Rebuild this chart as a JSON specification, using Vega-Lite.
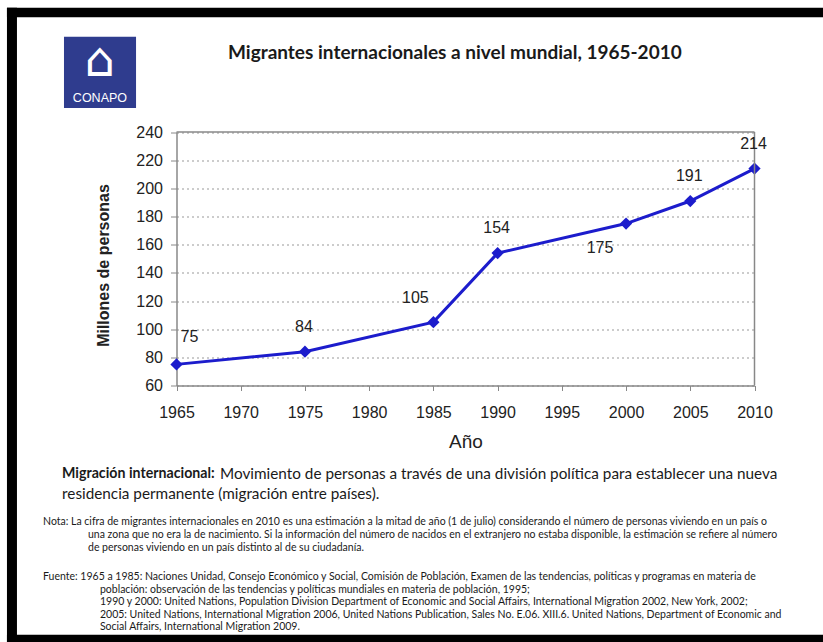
{
  "$schema": "https://vega.github.io/schema/vega-lite/v6.json",
  "width": 811,
  "height": 627,
  "autosize": {"type": "none"},
  "padding": {"left": 12, "top": 12.5, "right": 0, "bottom": 2.5},
  "background": "white",
  "config": {"view": {"fill": "white", "stroke": null}},
  "title": {
    "text": "Migrantes internacionales a nivel mundial, 1965-2010",
    "anchor": "start", "frame": "group", "dx": 216, "offset": -60,
    "font": "Lato", "fontSize": 19, "fontWeight": "bold", "color": "#1a1a1a"
  },
  "datasets": {
    "migrantes": [
      {"year": 1965, "value": 75},
      {"year": 1975, "value": 84},
      {"year": 1985, "value": 105},
      {"year": 1990, "value": 154},
      {"year": 2000, "value": 175},
      {"year": 2005, "value": 191},
      {"year": 2010, "value": 214}
    ]
  },
  "layer": [
    {
      "data": {"name": "migrantes"},
      "mark": {"type": "line", "color": "#1c1ccc", "strokeWidth": 3},
      "encoding": {
        "x": {"field": "year", "type": "quantitative",
          "scale": {"domain": [1965, 2010], "range": [164.5, 742.5], "nice": false, "zero": false},
          "axis": {"title": "Año", "values": [1965, 1970, 1975, 1980, 1985, 1990, 1995, 2000, 2005, 2010], "format": "d",
            "offset": -254, "labelFont": "Liberation Sans", "labelFontSize": 16, "labelColor": "#222", "labelPadding": 14,
            "labelFlush": false, "labelOverlap": false,
            "tickSize": 5, "tickColor": "#888", "domainColor": "#888", "domainWidth": 1.5, "grid": false,
            "titleFont": "Liberation Sans", "titleFontSize": 19, "titleFontWeight": "normal", "titleColor": "#222", "titlePadding": 12}},
        "y": {"field": "value", "type": "quantitative",
          "scale": {"domain": [60, 240], "range": [373, 119.5], "nice": false, "zero": false},
          "axis": {"title": "Millones de personas", "values": [60, 80, 100, 120, 140, 160, 180, 200, 220, 240],
            "offset": -164.5, "labelFont": "Liberation Sans", "labelFontSize": 16, "labelColor": "#222", "labelPadding": 8,
            "labelOverlap": false, "labelFlush": false,
            "tickSize": 6, "tickColor": "#888", "domainColor": "#888", "domainWidth": 1.5,
            "grid": true, "gridColor": "#999", "gridDash": [2, 3], "gridWidth": 1,
            "titleFont": "Liberation Sans", "titleFontSize": 16, "titleFontWeight": "bold", "titleColor": "#222",
            "titlePadding": 24, "titleY": 252.5}}
      }
    },
    {
      "data": {"name": "migrantes"},
      "mark": {"type": "point", "shape": "diamond", "filled": true, "size": 150, "color": "#1c1ccc", "opacity": 1},
      "encoding": {
        "x": {"field": "year", "type": "quantitative", "scale": {"domain": [1965, 2010], "range": [164.5, 742.5], "nice": false, "zero": false}},
        "y": {"field": "value", "type": "quantitative", "scale": {"domain": [60, 240], "range": [373, 119.5], "nice": false, "zero": false}}
      }
    },
    {
      "data": {"values": [{"borde": "superior"}]},
      "mark": {"type": "rule", "color": "#888", "strokeWidth": 1.5},
      "encoding": {
        "x": {"datum": 1965, "type": "quantitative", "scale": {"domain": [1965, 2010], "range": [164.5, 742.5], "nice": false, "zero": false}},
        "x2": {"datum": 2010},
        "y": {"datum": 240, "type": "quantitative", "scale": {"domain": [60, 240], "range": [373, 119.5], "nice": false, "zero": false}}
      }
    },
    {
      "data": {"values": [{"borde": "derecho"}]},
      "mark": {"type": "rule", "color": "#888", "strokeWidth": 1.5},
      "encoding": {
        "x": {"datum": 2010, "type": "quantitative", "scale": {"domain": [1965, 2010], "range": [164.5, 742.5], "nice": false, "zero": false}},
        "y": {"datum": 60, "type": "quantitative", "scale": {"domain": [60, 240], "range": [373, 119.5], "nice": false, "zero": false}},
        "y2": {"datum": 240}
      }
    },
    {
      "data": {"values": [{"marco": "superior"}]},
      "mark": {"type": "rule", "color": "black", "strokeWidth": 9.5},
      "encoding": {
        "x": {"datum": 1951.8, "type": "quantitative", "scale": {"domain": [1965, 2010], "range": [164.5, 742.5], "nice": false, "zero": false}},
        "x2": {"datum": 2017},
        "y": {"datum": 324.86, "type": "quantitative", "scale": {"domain": [60, 240], "range": [373, 119.5], "nice": false, "zero": false}}
      }
    },
    {
      "data": {"values": [{"marco": "izquierdo"}]},
      "mark": {"type": "rule", "color": "black", "strokeWidth": 10},
      "encoding": {
        "x": {"datum": 1952.19, "type": "quantitative", "scale": {"domain": [1965, 2010], "range": [164.5, 742.5], "nice": false, "zero": false}},
        "y": {"datum": 328.23, "type": "quantitative", "scale": {"domain": [60, 240], "range": [373, 119.5], "nice": false, "zero": false}},
        "y2": {"datum": -130}
      }
    },
    {
      "data": {"values": [{"marco": "inferior"}]},
      "mark": {"type": "rule", "color": "black", "strokeWidth": 9.5},
      "encoding": {
        "x": {"datum": 1951.8, "type": "quantitative", "scale": {"domain": [1965, 2010], "range": [164.5, 742.5], "nice": false, "zero": false}},
        "x2": {"datum": 2017},
        "y": {"datum": -120.36, "type": "quantitative", "scale": {"domain": [60, 240], "range": [373, 119.5], "nice": false, "zero": false}}
      }
    },
    {
      "data": {"name": "migrantes"},
      "transform": [{"filter": "datum.year == 1975 || datum.year == 1990 || datum.year == 2005 || datum.year == 2010"}],
      "mark": {"type": "text", "font": "Liberation Sans", "fontSize": 16, "color": "#222", "dx": -1, "dy": -25, "baseline": "middle"},
      "encoding": {
        "x": {"field": "year", "type": "quantitative", "scale": {"domain": [1965, 2010], "range": [164.5, 742.5], "nice": false, "zero": false}},
        "y": {"field": "value", "type": "quantitative", "scale": {"domain": [60, 240], "range": [373, 119.5], "nice": false, "zero": false}},
        "text": {"field": "value", "type": "quantitative"}
      }
    },
    {
      "data": {"name": "migrantes"},
      "transform": [{"filter": "datum.year == 1965"}],
      "mark": {"type": "text", "font": "Liberation Sans", "fontSize": 16, "color": "#222", "dx": 13, "dy": -27, "baseline": "middle"},
      "encoding": {
        "x": {"field": "year", "type": "quantitative", "scale": {"domain": [1965, 2010], "range": [164.5, 742.5], "nice": false, "zero": false}},
        "y": {"field": "value", "type": "quantitative", "scale": {"domain": [60, 240], "range": [373, 119.5], "nice": false, "zero": false}},
        "text": {"field": "value", "type": "quantitative"}
      }
    },
    {
      "data": {"name": "migrantes"},
      "transform": [{"filter": "datum.year == 1985"}],
      "mark": {"type": "text", "font": "Liberation Sans", "fontSize": 16, "color": "#222", "dx": -18, "dy": -24, "baseline": "middle"},
      "encoding": {
        "x": {"field": "year", "type": "quantitative", "scale": {"domain": [1965, 2010], "range": [164.5, 742.5], "nice": false, "zero": false}},
        "y": {"field": "value", "type": "quantitative", "scale": {"domain": [60, 240], "range": [373, 119.5], "nice": false, "zero": false}},
        "text": {"field": "value", "type": "quantitative"}
      }
    },
    {
      "data": {"name": "migrantes"},
      "transform": [{"filter": "datum.year == 2000"}],
      "mark": {"type": "text", "font": "Liberation Sans", "fontSize": 16, "color": "#222", "dx": -26, "dy": 24, "baseline": "middle"},
      "encoding": {
        "x": {"field": "year", "type": "quantitative", "scale": {"domain": [1965, 2010], "range": [164.5, 742.5], "nice": false, "zero": false}},
        "y": {"field": "value", "type": "quantitative", "scale": {"domain": [60, 240], "range": [373, 119.5], "nice": false, "zero": false}},
        "text": {"field": "value", "type": "quantitative"}
      }
    },
    {
      "data": {"values": [{"org": "CONAPO"}]},
      "mark": {"type": "rect", "fill": "#2f3c8e"},
      "encoding": {
        "x": {"datum": 1956.24, "type": "quantitative", "scale": {"domain": [1965, 2010], "range": [164.5, 742.5], "nice": false, "zero": false}},
        "x2": {"datum": 1961.85},
        "y": {"datum": 307.7, "type": "quantitative", "scale": {"domain": [60, 240], "range": [373, 119.5], "nice": false, "zero": false}},
        "y2": {"datum": 257.05}
      }
    },
    {
      "data": {"values": [{"icono": "⌂"}]},
      "mark": {"type": "text", "font": "DejaVu Sans", "fontSize": 48, "color": "white", "baseline": "middle", "align": "center"},
      "encoding": {
        "x": {"datum": 1959.04, "type": "quantitative", "scale": {"domain": [1965, 2010], "range": [164.5, 742.5], "nice": false, "zero": false}},
        "y": {"datum": 289.5, "type": "quantitative", "scale": {"domain": [60, 240], "range": [373, 119.5], "nice": false, "zero": false}},
        "text": {"field": "icono"}
      }
    },
    {
      "data": {"values": [{"org": "CONAPO"}]},
      "mark": {"type": "text", "font": "Liberation Sans", "fontSize": 12.5, "color": "white", "baseline": "middle", "align": "center"},
      "encoding": {
        "x": {"datum": 1959.04, "type": "quantitative", "scale": {"domain": [1965, 2010], "range": [164.5, 742.5], "nice": false, "zero": false}},
        "y": {"datum": 264.2, "type": "quantitative", "scale": {"domain": [60, 240], "range": [373, 119.5], "nice": false, "zero": false}},
        "text": {"field": "org"}
      }
    },
    {
      "data": {"values": [{"texto": "Migración internacional:"}]},
      "mark": {"type": "text", "font": "Lato", "fontSize": 14.2, "fontWeight": "bold", "color": "#1a1a1a", "baseline": "middle", "align": "left"},
      "encoding": {
        "x": {"datum": 1956.09, "type": "quantitative", "scale": {"domain": [1965, 2010], "range": [164.5, 742.5], "nice": false, "zero": false}},
        "y": {"datum": -2.5, "type": "quantitative", "scale": {"domain": [60, 240], "range": [373, 119.5], "nice": false, "zero": false}},
        "text": {"field": "texto"}
      }
    },
    {
      "data": {"values": [{"texto": "Movimiento de personas a través de una división política para establecer una nueva"}]},
      "mark": {"type": "text", "font": "Lato", "fontSize": 15.3, "color": "#1a1a1a", "baseline": "middle", "align": "left"},
      "encoding": {
        "x": {"datum": 1968.39, "type": "quantitative", "scale": {"domain": [1965, 2010], "range": [164.5, 742.5], "nice": false, "zero": false}},
        "y": {"datum": -2.5, "type": "quantitative", "scale": {"domain": [60, 240], "range": [373, 119.5], "nice": false, "zero": false}},
        "text": {"field": "texto"}
      }
    },
    {
      "data": {"values": [{"texto": "residencia permanente (migración entre países)."}]},
      "mark": {"type": "text", "font": "Lato", "fontSize": 15.3, "color": "#1a1a1a", "baseline": "middle", "align": "left"},
      "encoding": {
        "x": {"datum": 1956.09, "type": "quantitative", "scale": {"domain": [1965, 2010], "range": [164.5, 742.5], "nice": false, "zero": false}},
        "y": {"datum": -17.0, "type": "quantitative", "scale": {"domain": [60, 240], "range": [373, 119.5], "nice": false, "zero": false}},
        "text": {"field": "texto"}
      }
    },
    {
      "data": {"values": [{"texto": "Nota: La cifra de migrantes internacionales en 2010 es una estimación  a la mitad de año (1 de julio) considerando el número de personas  viviendo en un país o"}]},
      "mark": {"type": "text", "font": "Lato", "fontSize": 10.5, "color": "#1a1a1a", "baseline": "middle", "align": "left"},
      "encoding": {
        "x": {"datum": 1954.61, "type": "quantitative", "scale": {"domain": [1965, 2010], "range": [164.5, 742.5], "nice": false, "zero": false}},
        "y": {"datum": -36.93, "type": "quantitative", "scale": {"domain": [60, 240], "range": [373, 119.5], "nice": false, "zero": false}},
        "text": {"field": "texto"}
      }
    },
    {
      "data": {"values": [{"texto": "una zona que no era la de nacimiento. Si la información del número de nacidos en el extranjero no estaba disponible, la estimación se refiere al número\nde personas viviendo en un país distinto al de su ciudadanía."}]},
      "mark": {"type": "text", "font": "Lato", "fontSize": 10.5, "color": "#1a1a1a", "baseline": "top", "align": "left", "lineBreak": "\n", "lineHeight": 13},
      "encoding": {
        "x": {"datum": 1958.11, "type": "quantitative", "scale": {"domain": [1965, 2010], "range": [164.5, 742.5], "nice": false, "zero": false}},
        "y": {"datum": -42.6, "type": "quantitative", "scale": {"domain": [60, 240], "range": [373, 119.5], "nice": false, "zero": false}},
        "text": {"field": "texto"}
      }
    },
    {
      "data": {"values": [{"texto": "Fuente: 1965 a 1985: Naciones Unidad, Consejo Económico y Social, Comisión de Población, Examen de las tendencias, políticas y programas en materia de"}]},
      "mark": {"type": "text", "font": "Lato", "fontSize": 10.5, "color": "#1a1a1a", "baseline": "middle", "align": "left"},
      "encoding": {
        "x": {"datum": 1954.61, "type": "quantitative", "scale": {"domain": [1965, 2010], "range": [164.5, 742.5], "nice": false, "zero": false}},
        "y": {"datum": -75.98, "type": "quantitative", "scale": {"domain": [60, 240], "range": [373, 119.5], "nice": false, "zero": false}},
        "text": {"field": "texto"}
      }
    },
    {
      "data": {"values": [{"texto": "población: observación de las tendencias y políticas mundiales en materia de población, 1995;\n1990 y 2000: United Nations, Population Division Department of Economic and Social Affairs, International Migration 2002, New York, 2002;\n2005: United Nations, International Migration 2006, United Nations Publication, Sales No. E.06. XIII.6. United Nations, Department of Economic and\nSocial Affairs, International Migration 2009."}]},
      "mark": {"type": "text", "font": "Lato", "fontSize": 10.5, "color": "#1a1a1a", "baseline": "top", "align": "left", "lineBreak": "\n", "lineHeight": 12.3},
      "encoding": {
        "x": {"datum": 1959.04, "type": "quantitative", "scale": {"domain": [1965, 2010], "range": [164.5, 742.5], "nice": false, "zero": false}},
        "y": {"datum": -81.6, "type": "quantitative", "scale": {"domain": [60, 240], "range": [373, 119.5], "nice": false, "zero": false}},
        "text": {"field": "texto"}
      }
    }
  ]
}
